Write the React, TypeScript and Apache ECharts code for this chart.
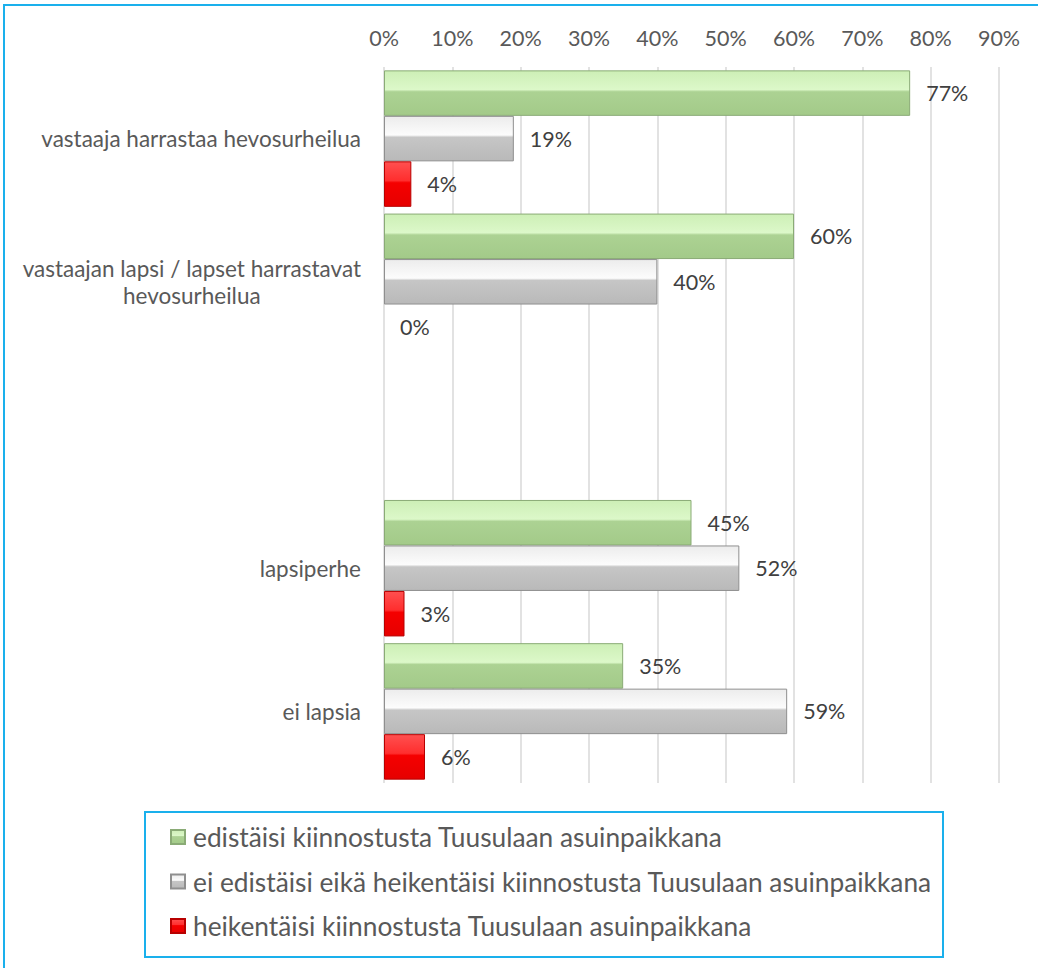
import React, { useEffect, useRef } from "react";
import * as echarts from "echarts";

const categories = [
  "vastaaja harrastaa hevosurheilua",
  "vastaajan lapsi / lapset harrastavat\nhevosurheilua",
  "",
  "lapsiperhe",
  "ei lapsia",
];
const seriesNames = [
  "edistäisi kiinnostusta Tuusulaan asuinpaikkana",
  "ei edistäisi eikä heikentäisi kiinnostusta Tuusulaan asuinpaikkana",
  "heikentäisi kiinnostusta Tuusulaan asuinpaikkana",
];
const edistaisi = [77, 60, null, 45, 35];
const eiKumpikaan = [19, 40, null, 52, 59];
const heikentaisi = [4, 0, null, 3, 6];

const FONT = "Lato";

function grad(top: string, mid1: string, mid2: string, bottom: string) {
  return new echarts.graphic.LinearGradient(0, 0, 0, 1, [
    { offset: 0, color: top },
    { offset: 0.42, color: mid1 },
    { offset: 0.47, color: mid2 },
    { offset: 1, color: bottom },
  ]);
}

export default function App() {
  const ref = useRef<HTMLDivElement>(null);
  useEffect(() => {
    if (!ref.current) return;
    const chart = echarts.init(ref.current, null, { renderer: "svg" });
    const styles = [
      { color: grad("#cdefb6", "#dcf8c9", "#acd293", "#a3ca89"), borderColor: "#8aab76" },
      { color: grad("#ececec", "#fcfcfc", "#c6c6c6", "#b9b9b9"), borderColor: "#8f8f8f" },
      { color: grad("#ff5050", "#ff2e2e", "#f50000", "#e60000"), borderColor: "#b80000" },
    ];
    const data = [edistaisi, eiKumpikaan, heikentaisi];
    chart.setOption({
      animation: false,
      backgroundColor: "#ffffff",
      textStyle: { fontFamily: FONT },
      grid: { left: 384, right: 39, top: 67, bottom: 185, containLabel: false },
      xAxis: {
        type: "value",
        position: "top",
        min: 0,
        max: 90,
        interval: 10,
        axisLine: { show: false },
        axisTick: { show: false },
        axisLabel: {
          formatter: "{value}%",
          color: "#595959",
          fontSize: 21.5,
          fontFamily: FONT,
          margin: 18,
        },
        splitLine: { lineStyle: { color: "#d9d9d9", width: 1.5 } },
      },
      yAxis: {
        type: "category",
        inverse: true,
        data: categories,
        axisLine: { show: false },
        axisTick: { show: false },
        axisLabel: {
          color: "#595959",
          fontSize: 22.5,
          fontFamily: FONT,
          margin: 23,
          lineHeight: 27,
          formatter: (v: string) => {
            const parts = v.split("\n");
            if (parts.length < 2) return v;
            return parts.map((p) => "{c|" + p + "}").join("\n");
          },
          rich: {
            c: { align: "center", color: "#595959", fontSize: 22.5, fontFamily: FONT, lineHeight: 27 },
          },
        },
      },
      legend: {
        orient: "vertical",
        left: 170,
        top: 824,
        itemWidth: 14,
        itemHeight: 14,
        itemGap: 18.5,
        icon: "rect",
        padding: 0,
        textStyle: {
          color: "#595959",
          fontSize: 26.3,
          fontFamily: FONT,
          lineHeight: 26,
          padding: [0, 0, 0, 3],
        },
        data: seriesNames,
      },
      graphic: [
        {
          type: "rect",
          shape: { x: 4, y: 5, width: 1200, height: 1200 },
          style: { fill: "none", stroke: "#1ab0ec", lineWidth: 2 },
          silent: true,
        },
        {
          type: "rect",
          shape: { x: 145, y: 812, width: 798, height: 145 },
          style: { fill: "none", stroke: "#1ab0ec", lineWidth: 2 },
          silent: true,
        },
      ],
      series: seriesNames.map((name, i) => ({
        name,
        type: "bar",
        data: data[i].map((v) =>
          v === 0 ? { value: 0, itemStyle: { borderWidth: 0 } } : v
        ),
        barGap: "0%",
        barCategoryGap: "4.7%",
        itemStyle: { ...styles[i], borderWidth: 1 },
        label: {
          show: true,
          position: "right",
          distance: 16,
          formatter: "{c}%",
          color: "#404040",
          fontSize: 21.5,
          fontFamily: FONT,
        },
      })),
    });
    return () => chart.dispose();
  }, []);
  return (
    <div
      ref={ref}
      style={{ position: "absolute", left: 0, top: 0, width: 1038, height: 968 }}
    />
  );
}
